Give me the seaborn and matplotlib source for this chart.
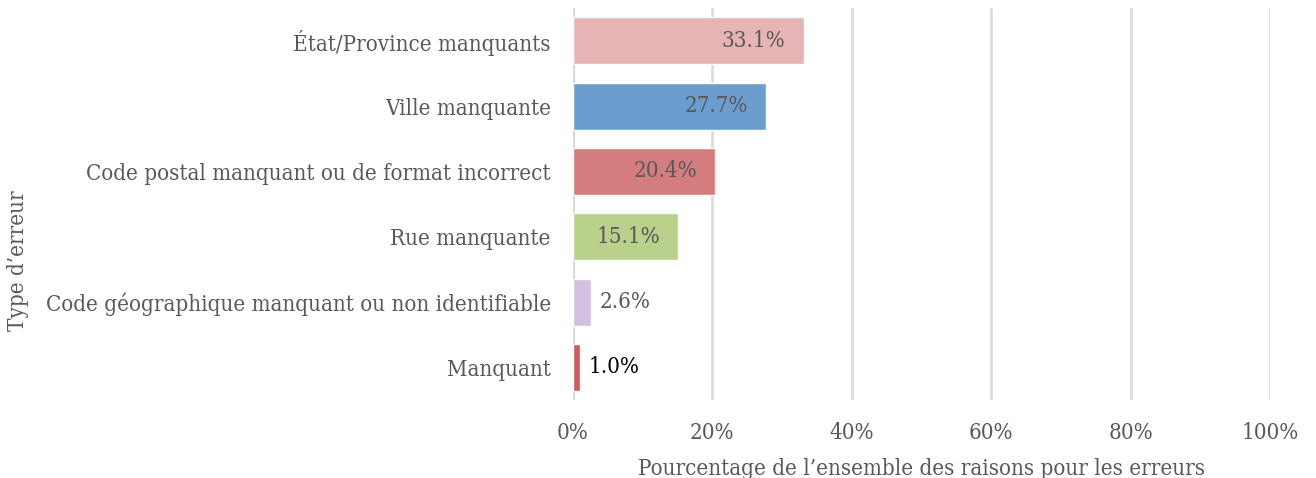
import pandas as pd
import matplotlib.pyplot as plt
import seaborn as sns

# Données
types = ["État/Province manquants", "Ville manquante",
         "Code postal manquant ou de format incorrect", "Rue manquante",
         "Code géographique manquant ou non identifiable", "Manquant"]
pourcentages = [33.1, 27.7, 20.4, 15.1, 2.6, 1.0]
couleurs = ["#e6b4b5", "#6b9ecf", "#d47d7e", "#b9d18a", "#d5c0e2", "#cf5b5c"]

df = pd.DataFrame({"Type": types, "Pct": pourcentages})

sns.set_style("white")
plt.rcParams["font.family"] = ["DejaVu Serif"]
plt.rcParams["font.stretch"] = "condensed"

fig = plt.figure(figsize=(13.16, 4.78), dpi=100)
ax = fig.add_axes([0.4354, 0.163, 0.5296, 0.820])
sns.barplot(data=df, y="Type", x="Pct", hue="Type", palette=couleurs,
            legend=False, width=0.72, saturation=1, ax=ax)

ax.set_xlim(0, 100)
ax.set_ylim(5.5, -0.5)
ax.set_xticks([0, 20, 40, 60, 80, 100])
ax.set_xticklabels([f"{v}%" for v in [0, 20, 40, 60, 80, 100]])
ax.grid(axis="x", color="#d9d9d9", linewidth=1.8)
ax.set_axisbelow(True)
ax.axvline(0, color="#d0d0d0", linewidth=3, zorder=0.5)
for s in ax.spines.values():
    s.set_visible(False)
ax.tick_params(axis="both", length=0, labelsize=16, labelcolor="#595959")
ax.tick_params(axis="y", pad=16)
ax.tick_params(axis="x", pad=16)

# étiquettes de données
for i, v in enumerate(pourcentages):
    if v > 10:
        ax.text(v - 2.6, i, f"{v:.1f}%", ha="right", va="center",
                fontsize=16, color="#595959")
    else:
        col = "#595959" if v > 2 else "black"
        ax.text(v + 1.2, i, f"{v:.1f}%", ha="left", va="center",
                fontsize=16, color=col)

ax.set_xlabel("Pourcentage de l’ensemble des raisons pour les erreurs",
              fontsize=16, color="#595959", labelpad=10)
ax.set_ylabel("")
fig.text(0.0137, 1 - 261 / 478, "Type d’erreur", rotation=90, ha="center",
         va="center", fontsize=16, color="#595959")

plt.savefig("out.png", dpi=100)
